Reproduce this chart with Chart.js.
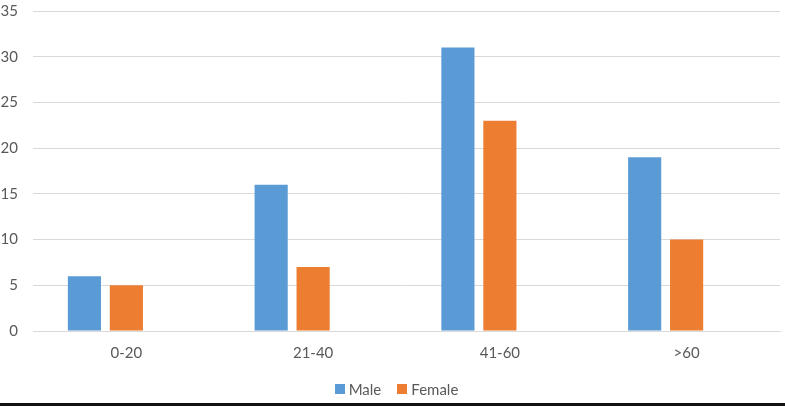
<!DOCTYPE html>
<html lang="en">
<head>
  <meta charset="UTF-8">
  <title>Age groups by sex</title>
  <script src="https://cdn.jsdelivr.net/npm/chart.js"></script>
  <style>
    body {
      margin: 0;
      background: #ffffff;
      font-family: Lato, sans-serif;
    }
    .wrap {
      position: relative;
      width: 785px;
      height: 409px;
    }
    .wrap canvas {
      position: absolute;
      left: 0;
      top: 0;
    }
    .legend {
      position: absolute;
      left: 0;
      top: 380px;
      width: 785px;
      display: flex;
      justify-content: center;
      font-size: 15px;
      color: #595959;
      padding-left: 8px;
      box-sizing: border-box;
    }
    .legend-item {
      display: flex;
      align-items: center;
      margin: 0 8px;
    }
    .legend-color {
      width: 10px;
      height: 10px;
      margin-right: 4px;
    }
    .rule {
      position: absolute;
      left: 0;
      top: 403px;
      width: 785px;
      height: 3px;
      background: #111;
    }
  </style>
</head>
<body>
  <div class="wrap">
    <canvas id="ageChart" width="785" height="383"></canvas>
    <div class="legend" id="chartLegend"></div>
    <div class="rule"></div>
  </div>

  <script>
    const categories = ['0-20', '21-40', '41-60', '>60'];
    const male = [6, 16, 31, 19];
    const female = [5, 7, 23, 10];
    // Excel kept an empty third series, which pushes the pairs left of the labels
    const blank = [null, null, null, null];

    const textColor = '#595959';
    const gridColor = '#d9d9d9';
    const font = { family: 'Lato', size: 15 };

    const data = {
      labels: categories,
      datasets: [
        { label: 'Male', data: male, backgroundColor: '#5b9bd5' },
        { label: 'Female', data: female, backgroundColor: '#ed7d31' },
        { label: '', data: blank, backgroundColor: 'rgba(0,0,0,0)' }
      ]
    };

    const ctx = document.getElementById('ageChart').getContext('2d');
    new Chart(ctx, {
      type: 'bar',
      data: data,
      options: {
        responsive: false,
        animation: false,
        categoryPercentage: 0.674,
        barPercentage: 0.79,
        layout: { padding: { top: 11, right: 5, left: 1, bottom: 8 } },
        plugins: {
          legend: { display: false },
          tooltip: { enabled: true }
        },
        scales: {
          x: {
            grid: { display: false, drawTicks: false },
            border: { display: true, color: gridColor, width: 1 },
            ticks: { color: textColor, font: font, padding: 13 }
          },
          y: {
            min: 0,
            max: 35,
            grid: { color: gridColor, drawTicks: false },
            border: { display: false },
            ticks: { stepSize: 5, color: textColor, font: font, padding: 15 },
            afterFit: scale => {
              scale.width = 32;
              scale.paddingTop = 0;
              scale.paddingBottom = 0;
            }
          }
        }
      }
    });

    // legende maison, comme dans Excel (carré + texte)
    const legendContainer = document.getElementById('chartLegend');
    data.datasets.filter(ds => ds.label !== '').forEach(ds => {
      const item = document.createElement('div');
      item.classList.add('legend-item');
      const box = document.createElement('div');
      box.classList.add('legend-color');
      box.style.backgroundColor = ds.backgroundColor;
      const text = document.createElement('span');
      text.textContent = ds.label;
      item.appendChild(box);
      item.appendChild(text);
      legendContainer.appendChild(item);
    });
  </script>
</body>
</html>
